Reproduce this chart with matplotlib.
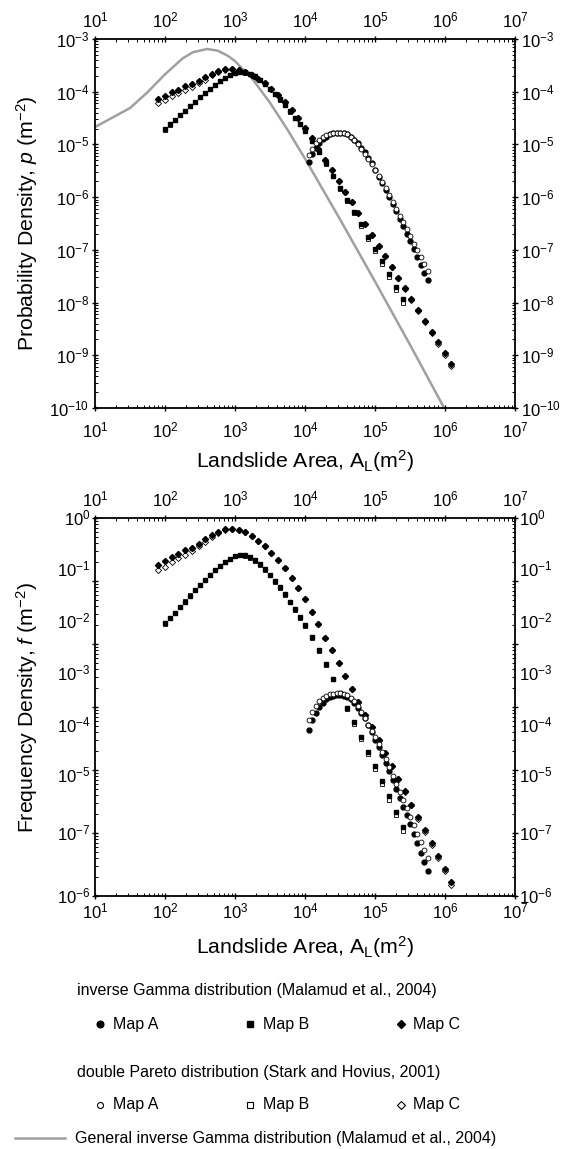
import numpy as np
import matplotlib
matplotlib.use('Agg')
import matplotlib.pyplot as plt
from matplotlib.ticker import LogLocator, NullFormatter
from matplotlib.lines import Line2D

plt.rcParams['font.family'] = ['Liberation Sans', 'DejaVu Sans']
plt.rcParams['mathtext.fontset'] = 'custom'
plt.rcParams['mathtext.rm'] = 'Liberation Sans'
plt.rcParams['mathtext.it'] = 'Liberation Sans:italic'
plt.rcParams['mathtext.default'] = 'regular'

# ---------------- data (log10 values) ----------------
# General inverse Gamma curve (top panel)
gig_logA = [1.0, 1.5, 1.75, 2.0, 2.25, 2.4, 2.6, 2.75, 2.9, 3.0, 3.25, 3.5, 3.75, 4.0, 4.5, 5.0,
            5.5, 5.98]
gig_logp = [-4.67, -4.31, -4.01, -3.67, -3.37, -3.25, -3.19, -3.22, -3.32, -3.42, -3.76, -4.21,
            -4.72, -5.27, -6.42, -7.60, -8.80, -9.98]

# Map A bins
A_logA = [4.05, 4.10, 4.15, 4.20, 4.25, 4.30, 4.35, 4.40, 4.45, 4.50, 4.55, 4.60, 4.65, 4.70, 4.75,
          4.80, 4.85, 4.90, 4.95, 5.00, 5.05, 5.10, 5.15, 5.20, 5.25, 5.30, 5.35, 5.40, 5.45, 5.50,
          5.55, 5.60, 5.65, 5.70, 5.75]
A_p_igam = [-5.33, -5.18, -5.06, -4.97, -4.90, -4.85, -4.81, -4.79, -4.78, -4.78, -4.79, -4.81, -4.85,
            -4.91, -4.98, -5.06, -5.15, -5.25, -5.36, -5.49, -5.61, -5.73, -5.86, -5.99, -6.13, -6.27,
            -6.41, -6.55, -6.69, -6.83, -6.98, -7.13, -7.28, -7.43, -7.58]
A_p_dpar = [-5.20, -5.08, -4.98, -4.91, -4.86, -4.82, -4.80, -4.79, -4.78, -4.78, -4.79, -4.81, -4.85,
            -4.91, -4.99, -5.08, -5.18, -5.28, -5.38, -5.48, -5.59, -5.71, -5.83, -5.96, -6.09, -6.22,
            -6.35, -6.48, -6.61, -6.74, -6.88, -7.01, -7.14, -7.27, -7.40]
A_f_igam = [-3.36, -3.21, -3.09, -3.00, -2.93, -2.88, -2.84, -2.82, -2.81, -2.81, -2.82, -2.84, -2.88,
            -2.94, -3.01, -3.09, -3.18, -3.28, -3.39, -3.52, -3.64, -3.76, -3.89, -4.02, -4.16, -4.30,
            -4.44, -4.58, -4.72, -4.86, -5.01, -5.16, -5.31, -5.46, -5.61]
A_f_dpar = [-3.20, -3.08, -2.98, -2.91, -2.86, -2.82, -2.80, -2.79, -2.78, -2.78, -2.79, -2.81, -2.85,
            -2.91, -2.99, -3.08, -3.18, -3.28, -3.38, -3.48, -3.59, -3.71, -3.83, -3.96, -4.09, -4.22,
            -4.35, -4.48, -4.61, -4.74, -4.88, -5.01, -5.14, -5.27, -5.40]

# Map B bins
B_logA = [2.00, 2.07, 2.14, 2.21, 2.29, 2.36, 2.43, 2.50, 2.57, 2.64, 2.71, 2.79, 2.86, 2.93, 3.00,
          3.07, 3.14, 3.21, 3.29, 3.36, 3.43, 3.50, 3.57, 3.64, 3.71, 3.79, 3.86, 3.93, 4.00, 4.10,
          4.20, 4.30, 4.40, 4.50, 4.60, 4.70, 4.80, 4.90, 5.00, 5.10, 5.20, 5.30, 5.40]
B_p_igam = [-4.71, -4.62, -4.54, -4.45, -4.37, -4.28, -4.19, -4.10, -4.02, -3.94, -3.87, -3.80, -3.74,
            -3.69, -3.64, -3.62, -3.63, -3.66, -3.71, -3.77, -3.85, -3.94, -4.04, -4.14, -4.25, -4.37,
            -4.49, -4.61, -4.74, -4.93, -5.14, -5.36, -5.59, -5.82, -6.05, -6.28, -6.51, -6.75, -6.98,
            -7.22, -7.46, -7.70, -7.94]
B_p_dpar = [-4.72, -4.63, -4.54, -4.45, -4.36, -4.27, -4.19, -4.10, -4.02, -3.94, -3.87, -3.80, -3.74,
            -3.69, -3.65, -3.63, -3.64, -3.67, -3.72, -3.78, -3.86, -3.95, -4.05, -4.15, -4.26, -4.38,
            -4.50, -4.62, -4.75, -4.94, -5.15, -5.37, -5.60, -5.84, -6.07, -6.31, -6.54, -6.79, -7.03,
            -7.27, -7.52, -7.76, -8.01]
B_f_igam = [-1.67, -1.58, -1.50, -1.41, -1.33, -1.24, -1.15, -1.06, -0.98, -0.90, -0.83, -0.76, -0.70,
            -0.65, -0.60, -0.58, -0.59, -0.62, -0.67, -0.73, -0.81, -0.90, -1.00, -1.10, -1.21, -1.33,
            -1.45, -1.57, -1.70, -1.89, -2.10, -2.32, -2.55, -2.78, -3.01, -3.24, -3.47, -3.71, -3.94,
            -4.18, -4.42, -4.66, -4.90]
B_f_dpar = [-1.68, -1.59, -1.50, -1.41, -1.32, -1.23, -1.15, -1.06, -0.98, -0.90, -0.83, -0.76, -0.70,
            -0.65, -0.61, -0.59, -0.60, -0.63, -0.68, -0.74, -0.82, -0.91, -1.01, -1.11, -1.22, -1.34,
            -1.46, -1.58, -1.71, -1.90, -2.11, -2.33, -2.56, -2.80, -3.03, -3.27, -3.50, -3.75, -3.99,
            -4.23, -4.48, -4.72, -4.97]

# Map C bins
C_logA = [1.90, 2.00, 2.10, 2.19, 2.29, 2.38, 2.48, 2.57, 2.67, 2.76, 2.86, 2.95, 3.05, 3.14, 3.24,
          3.33, 3.43, 3.52, 3.62, 3.71, 3.81, 3.90, 4.00, 4.10, 4.19, 4.29, 4.38, 4.48, 4.57, 4.67,
          4.76, 4.86, 4.95, 5.05, 5.14, 5.24, 5.33, 5.43, 5.52, 5.62, 5.71, 5.81, 5.90, 6.00, 6.09]
C_p_igam = [-4.13, -4.08, -4.01, -3.96, -3.90, -3.86, -3.80, -3.73, -3.66, -3.61, -3.57, -3.56, -3.58,
            -3.62, -3.68, -3.75, -3.84, -3.94, -4.06, -4.19, -4.34, -4.50, -4.68, -4.88, -5.08, -5.29,
            -5.49, -5.69, -5.90, -6.10, -6.31, -6.51, -6.71, -6.92, -7.12, -7.33, -7.53, -7.73, -7.94,
            -8.14, -8.35, -8.55, -8.75, -8.96, -9.16]
C_p_dpar = [-4.22, -4.16, -4.09, -4.03, -3.97, -3.91, -3.84, -3.77, -3.69, -3.63, -3.58, -3.56, -3.58,
            -3.62, -3.68, -3.75, -3.84, -3.94, -4.06, -4.19, -4.34, -4.50, -4.68, -4.88, -5.08, -5.29,
            -5.49, -5.69, -5.90, -6.10, -6.31, -6.51, -6.71, -6.92, -7.12, -7.33, -7.53, -7.74, -7.95,
            -8.16, -8.37, -8.58, -8.79, -9.00, -9.21]
C_f_igam = [-0.74, -0.69, -0.62, -0.57, -0.51, -0.47, -0.41, -0.34, -0.27, -0.22, -0.18, -0.17, -0.19,
            -0.23, -0.29, -0.36, -0.45, -0.55, -0.67, -0.80, -0.95, -1.11, -1.29, -1.49, -1.69, -1.90,
            -2.10, -2.30, -2.51, -2.71, -2.92, -3.12, -3.32, -3.53, -3.73, -3.94, -4.14, -4.34, -4.55,
            -4.75, -4.96, -5.16, -5.36, -5.57, -5.77]
C_f_dpar = [-0.83, -0.77, -0.70, -0.64, -0.58, -0.52, -0.45, -0.38, -0.30, -0.24, -0.19, -0.17, -0.19,
            -0.23, -0.29, -0.36, -0.45, -0.55, -0.67, -0.80, -0.95, -1.11, -1.29, -1.49, -1.69, -1.90,
            -2.10, -2.30, -2.51, -2.71, -2.92, -3.12, -3.32, -3.53, -3.73, -3.94, -4.14, -4.35, -4.56,
            -4.77, -4.98, -5.19, -5.40, -5.61, -5.82]

# tick labels
area_ticks = [1e1, 1e2, 1e3, 1e4, 1e5, 1e6, 1e7]
area_tick_labels = [r'$10^{1}$', r'$10^{2}$', r'$10^{3}$', r'$10^{4}$', r'$10^{5}$', r'$10^{6}$',
                    r'$10^{7}$']
# the lower panel's y axis, labelled as printed in the original figure
f_tick_labels = [r'$10^{0}$', r'$10^{-1}$', r'$10^{-2}$', r'$10^{-3}$', r'$10^{-4}$', r'$10^{-5}$',
                 r'$10^{-7}$', r'$10^{-6}$']
f_tick_logpos = [0.0, -0.82, -1.64, -2.47, -3.29, -4.08, -5.0, -6.0]

# ---------------- figure ----------------
W, H = 572, 1149
fig = plt.figure(figsize=(W / 100, H / 100), dpi=100)
TICK_FS = 12
LABEL_FS = 15.3


def px_axes(l, t, r, b):
    return fig.add_axes([l / W, 1 - b / H, (r - l) / W, (b - t) / H])


def style(ax, ylo, yhi, ylabels=True):
    ax.set_xscale('log')
    ax.set_yscale('log')
    ax.set_xlim(1e1, 1e7)
    ax.set_ylim(ylo, yhi)
    for a in (ax.xaxis, ax.yaxis):
        a.set_major_locator(LogLocator(base=10, numticks=30))
        a.set_minor_locator(LogLocator(base=10, subs=np.arange(2, 10), numticks=30))
        a.set_minor_formatter(NullFormatter())
    ax.tick_params(which='both', top=True, right=True, labeltop=False, labelbottom=False,
                   labelright=ylabels, labelleft=ylabels, direction='in', colors='black')
    ax.tick_params(which='major', length=5, width=1.0, direction='inout', labelsize=TICK_FS, pad=1.5)
    ax.tick_params(which='minor', length=2.5, width=0.7)
    for s in ax.spines.values():
        s.set_linewidth(1.3)


def x_labels(ax, top_px, bot_px, height_px):
    tr = ax.get_xaxis_transform()
    for x, lab in zip(area_ticks, area_tick_labels):
        ax.text(x, 1 + top_px / height_px, lab, transform=tr, ha='center', va='baseline',
                fontsize=TICK_FS)
        ax.text(x, -bot_px / height_px, lab, transform=tr, ha='center', va='baseline',
                fontsize=TICK_FS)


def draw_points(ax, logA, ig, dp, marker, ms, open_on_top):
    x = 10 ** np.asarray(logA)
    if open_on_top:
        ax.plot(x, 10 ** np.asarray(ig), marker, ms=ms, color='black', ls='none', zorder=3)
        ax.plot(x, 10 ** np.asarray(dp), marker, ms=ms, mfc='white', mec='black', mew=0.6,
                ls='none', zorder=4)
    else:
        ax.plot(x, 10 ** np.asarray(dp), marker, ms=ms, mfc='white', mec='black', mew=0.6,
                ls='none', zorder=3)
        ax.plot(x, 10 ** np.asarray(ig), marker, ms=ms, color='black', ls='none', zorder=4)


# --- top panel: probability density
ax1 = px_axes(95, 39, 515, 408)
style(ax1, 1e-10, 1e-3)
x_labels(ax1, 12, 29, 369)
ax1.plot(10 ** np.asarray(gig_logA), 10 ** np.asarray(gig_logp), color='#a0a0a0', lw=1.8, zorder=2)
draw_points(ax1, B_logA, B_p_igam, B_p_dpar, 's', 3.4, False)
draw_points(ax1, C_logA, C_p_igam, C_p_dpar, 'D', 3.1, False)
draw_points(ax1, A_logA, A_p_igam, A_p_dpar, 'o', 3.5, True)
ax1.set_xlabel(r'Landslide Area, A$_{\mathrm{L}}$(m$^{2}$)', fontsize=LABEL_FS)
ax1.set_ylabel(r'Probability Density, $\mathit{p}$ (m$^{-2}$)', fontsize=LABEL_FS)
ax1.xaxis.set_label_coords(0.5, -0.110)
ax1.yaxis.set_label_coords(-0.131, 0.5)

# --- bottom panel: frequency density
ax2 = px_axes(95, 518, 515, 896)
style(ax2, 1e-6, 1e0, ylabels=False)
x_labels(ax2, 12, 22, 378)
draw_points(ax2, B_logA, B_f_igam, B_f_dpar, 's', 3.4, False)
draw_points(ax2, C_logA, C_f_igam, C_f_dpar, 'D', 3.1, False)
draw_points(ax2, A_logA, A_f_igam, A_f_dpar, 'o', 3.5, True)
for lab, pos in zip(f_tick_labels, f_tick_logpos):
    ax2.text(-0.01, 10 ** pos, lab, transform=ax2.get_yaxis_transform(), ha='right',
             va='center', fontsize=TICK_FS)
    ax2.text(1.01, 10 ** pos, lab, transform=ax2.get_yaxis_transform(), ha='left',
             va='center', fontsize=TICK_FS)
ax2.set_xlabel(r'Landslide Area, A$_{\mathrm{L}}$(m$^{2}$)', fontsize=LABEL_FS)
ax2.set_ylabel(r'Frequency Density, $\mathit{f}$ (m$^{-2}$)', fontsize=LABEL_FS)
ax2.xaxis.set_label_coords(0.5, -0.100)
ax2.yaxis.set_label_coords(-0.131, 0.5)

# --- key below the panels
la = fig.add_axes([0, 0, 1, 1], zorder=-1)
la.set_xlim(0, W)
la.set_ylim(H, 0)
la.axis('off')
fs = 11.5
la.text(77, 991, 'inverse Gamma distribution (Malamud et al., 2004)', fontsize=fs, va='center')
la.text(77, 1072, 'double Pareto distribution (Stark and Hovius, 2001)', fontsize=fs, va='center')
for mk, ms, xm in (('o', 4.8, 100), ('s', 4.4, 250), ('D', 4.0, 401)):
    la.plot([xm], [1024], mk, ms=ms, color='black', ls='none')
    la.plot([xm], [1105], mk, ms=ms * 0.9, mfc='white', mec='black', mew=0.8, ls='none')
for name, xt in (('Map A', 113), ('Map B', 263), ('Map C', 413)):
    la.text(xt, 1024, name, fontsize=fs, va='center')
    la.text(xt, 1105, name, fontsize=fs, va='center')
la.add_line(Line2D([15, 65], [1138, 1138], color='#a0a0a0', lw=1.8))
la.text(75, 1138, 'General inverse Gamma distribution (Malamud et al., 2004)', fontsize=fs,
        va='center')

fig.savefig('out.png', dpi=100)
